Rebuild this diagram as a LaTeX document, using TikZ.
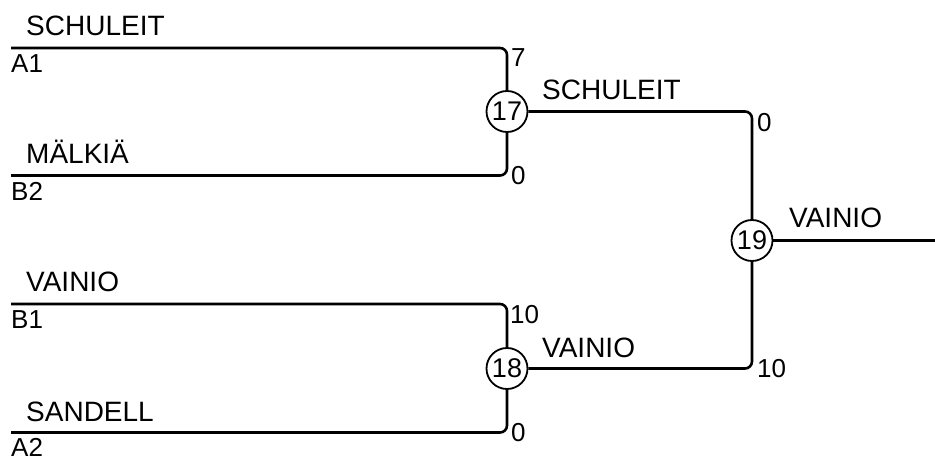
\documentclass[tikz,border=0pt]{standalone}
\usepackage{fontspec}
\setmainfont{Liberation Sans}
\begin{document}
\begin{tikzpicture}[x=1pt,y=-1pt,
  conn/.style={line width=2.6pt, rounded corners=7pt},
  match/.style={circle, draw, line width=1.8pt, minimum size=41pt, inner sep=0pt, font=\fontsize{27}{27}\selectfont},
  player/.style={anchor=base west, inner sep=0pt, font=\fontsize{28}{28}\selectfont},
  seed/.style={anchor=base west, inner sep=0pt, font=\fontsize{26}{26}\selectfont},
  topscore/.style={anchor=north west, inner sep=0pt, font=\fontsize{26}{26}\selectfont},
  botscore/.style={anchor=west, inner sep=0pt, font=\fontsize{26}{26}\selectfont}]
\useasboundingbox (0,0) rectangle (935,457);

% match circles
\node[match] (c17) at (507,111.5) {17};
\node[match] (c18) at (507,368.5) {18};
\node[match] (c19) at (752,240.5) {19};

% start points
\coordinate (sA1) at (11,48);
\coordinate (sB2) at (11,175.5);
\coordinate (sB1) at (11,304);
\coordinate (sA2) at (11,432.5);
\coordinate (out) at (935,240.5);

% connectors
\draw[conn] (sA1) -| (c17);
\draw[conn] (sB2) -| (c17);
\draw[conn] (sB1) -| (c18);
\draw[conn] (sA2) -| (c18);
\draw[conn] (c17) -| (c19);
\draw[conn] (c18) -| (c19);
\draw[conn] (c19) -- (out);

% player names
\node[player] (nA1) at (26,36) {SCHULEIT};
\node[player] (nB2) at (26,164) {MÄLKIÄ};
\node[player] (nB1) at (26,292) {VAINIO};
\node[player] (nA2) at (26,421) {SANDELL};
\node[player] (w17) at (542,100) {SCHULEIT};
\node[player] (w18) at (542,357) {VAINIO};
\node[player] (w19) at (789,228) {VAINIO};

% seeds
\node[seed] (lA1) at (11,73) {A1};
\node[seed] (lB2) at (11,200.5) {B2};
\node[seed] (lB1) at (11,328.5) {B1};
\node[seed] (lA2) at (11,456.5) {A2};

% scores
\node[topscore] (s1) at (511,48) {7};
\node[botscore] (s2) at (511,175.5) {0};
\node[topscore] (s3) at (510,305) {10};
\node[botscore] (s4) at (511,432.5) {0};
\node[topscore] (s5) at (757,113) {0};
\node[botscore] (s6) at (757,368.5) {10};
\end{tikzpicture}
\end{document}
